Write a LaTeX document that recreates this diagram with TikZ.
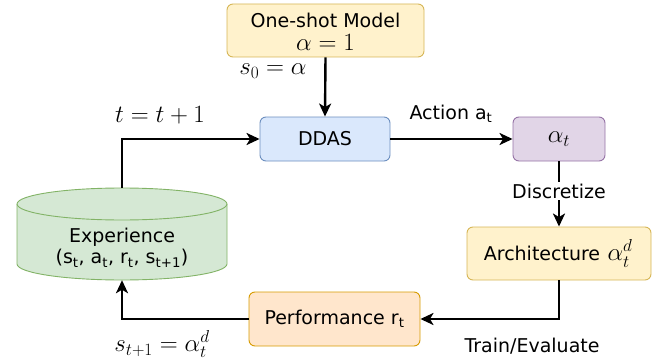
\documentclass[tikz,border=0pt]{standalone}
\usepackage{fontspec}
\setmainfont{DejaVu Sans}
\usetikzlibrary{arrows.meta}
\definecolor{yfill}{HTML}{FFF2CC}\definecolor{ydraw}{HTML}{D6B656}
\definecolor{bfill}{HTML}{DAE8FC}\definecolor{bdraw}{HTML}{6C8EBF}
\definecolor{pfill}{HTML}{E1D5E7}\definecolor{pdraw}{HTML}{9673A6}
\definecolor{ofill}{HTML}{FFE6CC}\definecolor{odraw}{HTML}{D79B00}
\definecolor{gfill}{HTML}{D5E8D4}\definecolor{gdraw}{HTML}{82B366}
\newcommand{\mth}[1]{{\fontsize{24}{28}\selectfont$#1$}}
\begin{document}
\begin{tikzpicture}[x=1pt,y=-1pt,
  box/.style={rounded corners=6pt,line width=0.9pt,inner sep=0pt,font=\fontsize{19}{22}\selectfont,align=center},
  conn/.style={line width=2.4pt,-{Stealth[length=13pt,width=12pt,inset=3.5pt]}},
  lbl/.style={font=\fontsize{19}{22}\selectfont,inner sep=0pt}]
\useasboundingbox (0,0) rectangle (667,361);
\node[box,fill=yfill,draw=ydraw,minimum width=197pt,minimum height=53pt] (one) at (325.5,30.5) {};
\node[font=\fontsize{19}{22}\selectfont,inner sep=0pt] (onet) at (325.5,20) {One-shot Model};
\node[inner sep=0pt] (onem) at (325.5,42) {\mth{\alpha=1}};
\node[box,fill=bfill,draw=bdraw,minimum width=130pt,minimum height=44pt] (ddas) at (325,139) {DDAS};
\node[box,fill=pfill,draw=pdraw,minimum width=92pt,minimum height=44pt] (alpha) at (559,139) {\mth{\alpha_t}};
\node[box,fill=yfill,draw=ydraw,minimum width=184pt,minimum height=53pt] (arch) at (559,253.5) {};
\node[font=\fontsize{19}{22}\selectfont,inner sep=0pt] (archt) at (542,253.5) {Architecture};
\node[inner sep=0pt,anchor=west,xshift=7pt] (archm) at (archt.east) {\mth{\alpha_t^d}};
\node[box,fill=ofill,draw=odraw,minimum width=171pt,minimum height=54pt] (perf) at (334.5,319) {Performance r\textsubscript{t}};
% cylinder
\draw[fill=gfill,draw=gdraw,line width=0.9pt] (17,204) -- (17,264) arc[start angle=180,end angle=0,x radius=105,y radius=16] -- (227,204) arc[start angle=0,end angle=-180,x radius=105,y radius=16] -- cycle;
\draw[draw=gdraw,line width=0.9pt] (17,204) arc[start angle=180,end angle=0,x radius=105,y radius=16];
\node[inner sep=0pt,minimum width=210pt,minimum height=92pt] (exp) at (122,234) {};
\node[font=\fontsize{19}{22}\selectfont,align=center] at (122,248) {Experience\\[-1pt](s\textsubscript{t}, a\textsubscript{t}, r\textsubscript{t}, s\textsubscript{t+1})};
% connectors
\draw[conn] (one.south) -- (ddas.north);
\node[lbl] at (273,71) {\mth{s_0=\alpha}};
\draw[conn] (ddas.east) -- (alpha.west);
\node[lbl] at (451,114) {Action a\textsubscript{t}};
\draw[conn] (alpha.south) -- (arch.north);
\node[lbl,fill=white,inner sep=2pt] at (559,191) {Discretize};
\draw[conn] (arch.south) |- (perf.east);
\node[lbl] at (532,346) {Train/Evaluate};
\draw[conn] (perf.west) -| (exp.south);
\node[lbl] at (162,344) {\mth{s_{t+1}=\alpha_t^d}};
\draw[conn] (exp.north) |- (ddas.west);
\node[lbl] at (160,115) {\mth{t=t+1}};
\end{tikzpicture}
\end{document}
